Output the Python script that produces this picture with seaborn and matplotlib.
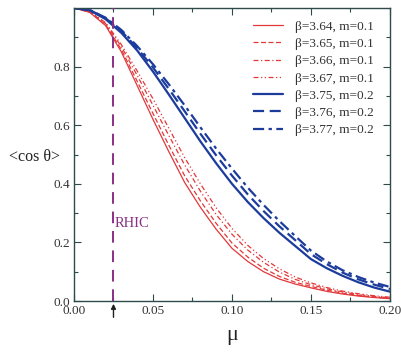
import numpy as np
import pandas as pd
import matplotlib
matplotlib.use("Agg")
import matplotlib.pyplot as plt
import seaborn as sns

# chemical potential grid
mu = [0.00, 0.01, 0.02, 0.03, 0.04, 0.05, 0.06, 0.07, 0.08, 0.09, 0.10,
      0.11, 0.12, 0.13, 0.14, 0.15, 0.16, 0.17, 0.18, 0.19, 0.20]

# <cos theta> curves, m = 0.1 (red)
b364 = [1.000, 0.985, 0.940, 0.850, 0.735, 0.620, 0.510, 0.405, 0.320, 0.245, 0.180,
        0.135, 0.100, 0.075, 0.058, 0.045, 0.033, 0.024, 0.017, 0.012, 0.008]
b365 = [1.000, 0.986, 0.943, 0.858, 0.750, 0.640, 0.532, 0.428, 0.342, 0.265, 0.198,
        0.150, 0.112, 0.084, 0.064, 0.050, 0.037, 0.027, 0.019, 0.013, 0.009]
b366 = [1.000, 0.987, 0.947, 0.868, 0.770, 0.668, 0.565, 0.465, 0.375, 0.295, 0.228,
        0.174, 0.132, 0.099, 0.074, 0.056, 0.042, 0.031, 0.022, 0.016, 0.011]
b367 = [1.000, 0.988, 0.950, 0.875, 0.785, 0.690, 0.590, 0.490, 0.400, 0.318, 0.248,
        0.190, 0.145, 0.110, 0.082, 0.062, 0.046, 0.034, 0.025, 0.018, 0.013]

# m = 0.2 (blue)
b375 = [1.000, 0.992, 0.962, 0.915, 0.855, 0.783, 0.705, 0.625, 0.545, 0.470, 0.400,
        0.338, 0.283, 0.233, 0.188, 0.143, 0.112, 0.086, 0.064, 0.046, 0.032]
b376 = [1.000, 0.993, 0.965, 0.921, 0.863, 0.797, 0.724, 0.648, 0.571, 0.497, 0.428,
        0.364, 0.307, 0.255, 0.208, 0.160, 0.126, 0.097, 0.074, 0.056, 0.041]
b377 = [1.000, 0.993, 0.967, 0.925, 0.870, 0.808, 0.740, 0.668, 0.593, 0.520, 0.452,
        0.387, 0.328, 0.273, 0.222, 0.172, 0.135, 0.105, 0.082, 0.063, 0.048]

labels = ["β=3.64, m=0.1", "β=3.65, m=0.1", "β=3.66, m=0.1", "β=3.67, m=0.1",
          "β=3.75, m=0.2", "β=3.76, m=0.2", "β=3.77, m=0.2"]
rhic_mu = 0.025

RED = "#e2383a"
BLUE = "#1c3c9c"
PURPLE = "#8a2f86"
AXC = "#2e4a4a"


def main():
    sns.set_style("ticks")
    plt.rcParams["font.family"] = ["Liberation Serif", "DejaVu Serif"]

    fig = plt.figure(figsize=(4.01, 3.55), dpi=100)
    ax = fig.add_axes([0.1845, 0.152, 0.788, 0.8255])

    series = [b364, b365, b366, b367, b375, b376, b377]
    colors = [RED] * 4 + [BLUE] * 3
    widths = [0.9] * 4 + [1.6] * 3
    dashes = [(None, None), (4, 2), (4, 2, 1, 2), (4, 2, 1, 2, 1, 2),
              (None, None), (5, 2.5), (5, 2, 1.5, 2)]

    for vals, lab, c, w, d in zip(series, labels, colors, widths, dashes):
        line = sns.lineplot(x=mu, y=vals, ax=ax, color=c, linewidth=w, label=lab)
        if d[0] is not None:
            line.lines[-1].set_dashes(d)

    # RHIC marker
    ax.axvline(rhic_mu, color=PURPLE, linestyle=(0, (6, 4)), linewidth=1.4, zorder=5)
    ax.text(rhic_mu + 0.0008, 0.265, "RHIC", color=PURPLE, fontsize=10.5, va="center")
    ax.annotate("", xy=(rhic_mu, 0.0), xytext=(rhic_mu, -0.065),
                arrowprops=dict(arrowstyle="-|>", color="#202020", lw=1.0,
                                mutation_scale=7),
                annotation_clip=False)

    ax.set_xlim(0, 0.2)
    ax.set_ylim(0, 1.0)
    ax.set_xticks([0.0, 0.05, 0.10, 0.15, 0.20])
    ax.set_xticklabels(["0.00", "0.05", "0.10", "0.15", "0.20"])
    ax.set_xticks([0.025, 0.075, 0.125, 0.175], minor=True)
    ax.set_yticks([0.0, 0.2, 0.4, 0.6, 0.8])
    ax.set_yticklabels(["0.0", "0.2", "0.4", "0.6", "0.8"])
    ax.set_yticks([0.1, 0.3, 0.5, 0.7, 0.9], minor=True)
    ax.tick_params(which="both", direction="in", top=True, right=True,
                   color=AXC, labelsize=9.5, labelcolor="#333333", pad=3)
    ax.tick_params(which="major", length=5, width=0.8)
    ax.tick_params(which="minor", length=3, width=0.8)
    for s in ax.spines.values():
        s.set_color(AXC)
        s.set_linewidth(1.0)

    ax.set_xlabel("μ", fontsize=16, color="#222222", labelpad=6)
    ax.set_ylabel("<cos θ>", fontsize=11.5, color="#222222", rotation=0,
                  ha="center", va="center")
    ax.yaxis.set_label_coords(-0.125, 0.49)

    leg = ax.legend(loc="upper right", frameon=False, fontsize=9.5,
                    handlelength=2.3, handletextpad=0.9, labelspacing=0.38,
                    borderaxespad=0.0, bbox_to_anchor=(0.965, 0.975))
    for t in leg.get_texts():
        t.set_color("#333333")

    fig.savefig("out.png", dpi=100)


if __name__ == "__main__":
    main()
